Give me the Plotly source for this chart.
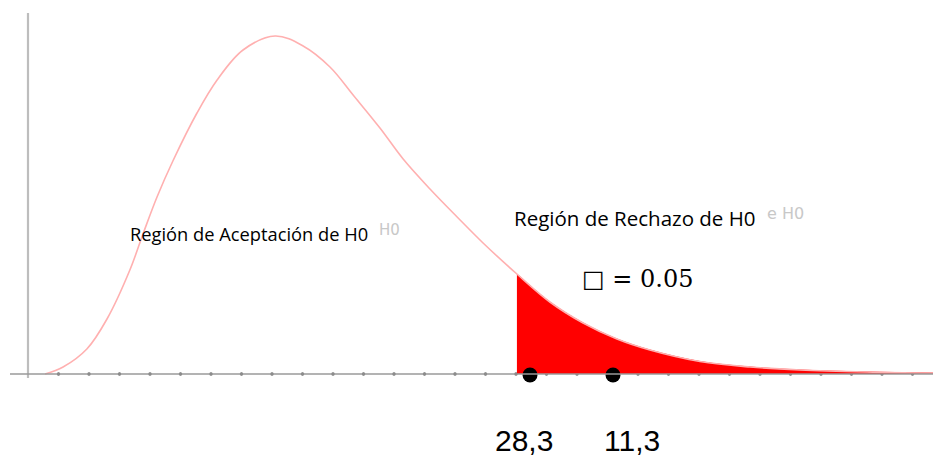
import plotly.graph_objects as go

# Curve (x in tick units, y = relative height)
curve_x = [0.56, 1.15, 1.93, 2.59, 3.34, 3.77, 4.23, 4.75, 5.54, 6.20, 7.05, 8.10,
           9.02, 9.90, 10.66, 11.54, 12.30, 13.18, 14.07, 14.92, 16.03, 17.11, 18.20,
           19.31, 20.39, 22.03, 23.67, 25.31, 27.51, 29.67]
curve_y = [0, 7, 25, 55, 104, 140, 177, 213, 261, 294, 324, 338,
           328, 307, 279, 246, 215, 185, 157, 131, 100, 72, 51,
           35, 24, 12.5, 7, 4, 2, 1]

critical_x = 16.03          # start of rejection region
tick_positions = list(range(1, 30))
point_x = [16.46, 19.18]    # the two black points
point_labels = ["28,3", "11,3"]
label_x = [16.26, 19.80]

accept_label = "Región de Aceptación de H0"
reject_label = "Región de Rechazo de H0"
accept_ghost = "H0"
reject_ghost = "e H0"
alpha_label = "\u25a1 = 0.05"

tail_x = [x for x in curve_x if x >= critical_x]
tail_y = [y for x, y in zip(curve_x, curve_y) if x >= critical_x]

fig = go.Figure()

# axis lines
fig.add_shape(type="line", x0=0, x1=0, y0=-4, y1=361,
              line=dict(color="#bdbdbd", width=2.2))
fig.add_shape(type="line", x0=-0.59, x1=29.7, y0=0, y1=0,
              line=dict(color="#9a9a9a", width=1.5))

# tick dots
fig.add_trace(go.Scatter(x=tick_positions, y=[0] * len(tick_positions), mode="markers",
                         marker=dict(size=3.5, color="#666666"), hoverinfo="skip"))

# rejection region fill
fig.add_trace(go.Scatter(x=tail_x, y=tail_y, mode="lines", fill="tozeroy",
                         fillcolor="#ff0000",
                         line=dict(color="#ff0000", width=1, shape="spline", smoothing=1),
                         hoverinfo="skip"))

# density curve
fig.add_trace(go.Scatter(x=curve_x, y=curve_y, mode="lines",
                         line=dict(color="#ffb0b0", width=1.6, shape="spline", smoothing=1),
                         hoverinfo="skip"))

# black points
fig.add_trace(go.Scatter(x=point_x, y=[-1, -1], mode="markers",
                         marker=dict(size=15, color="black"), hoverinfo="skip"))

# faint ghost texts trailing the labels
fig.add_annotation(x=(402 - 28) / 30.5, y=374 - 230, text=accept_ghost, showarrow=False,
                   xanchor="right", yanchor="middle",
                   font=dict(family="DejaVu Sans", size=15, color="#c8c8c8"))
fig.add_annotation(x=(806 - 28) / 30.5, y=374 - 213, text=reject_ghost, showarrow=False,
                   xanchor="right", yanchor="middle",
                   font=dict(family="DejaVu Sans", size=16, color="#c8c8c8"))

# main texts
fig.add_annotation(x=(128 - 28) / 30.5, y=374 - 233, text=accept_label, showarrow=False,
                   xanchor="left", yanchor="middle",
                   font=dict(family="Open Sans", size=18.3, color="black"))
fig.add_annotation(x=(512 - 28) / 30.5, y=374 - 218, text=reject_label, showarrow=False,
                   xanchor="left", yanchor="middle",
                   font=dict(family="Open Sans", size=20.5, color="black"))
fig.add_annotation(x=(580 - 28) / 30.5, y=374 - 279, text=alpha_label, showarrow=False,
                   xanchor="left", yanchor="middle",
                   font=dict(family="DejaVu Serif", size=24, color="black"))

for lx, lt in zip(label_x, point_labels):
    fig.add_annotation(x=lx, y=374 - 440, text=lt, showarrow=False,
                       xanchor="center", yanchor="middle",
                       font=dict(family="Liberation Sans", size=30, color="black"))

fig.update_layout(
    width=933, height=470, autosize=False,
    margin=dict(l=0, r=0, t=0, b=0),
    paper_bgcolor="white", plot_bgcolor="white",
    showlegend=False,
    xaxis=dict(range=[-28 / 30.5, (933 - 28) / 30.5], visible=False, fixedrange=True),
    yaxis=dict(range=[-96, 374], visible=False, fixedrange=True),
)

fig.write_html("out.html", config={"displayModeBar": False},
               post_script="document.body.style.margin='0';document.body.style.overflow='hidden';")
